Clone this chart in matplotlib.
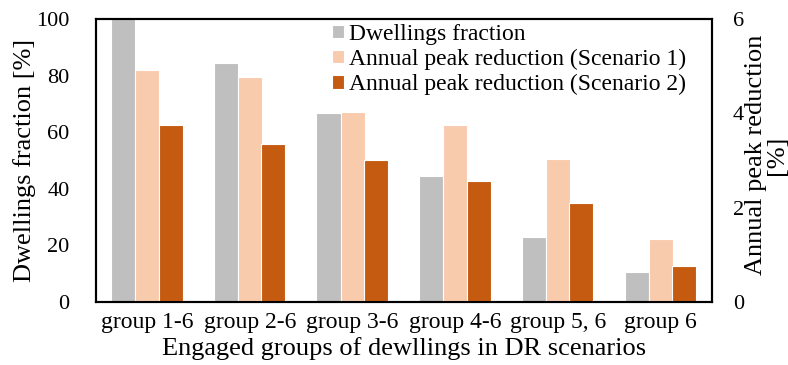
import matplotlib
matplotlib.use("Agg")
import matplotlib.pyplot as plt
import numpy as np

plt.rcParams['font.family'] = ['Liberation Serif', 'DejaVu Serif']

groups = ["group 1-6", "group 2-6", "group 3-6", "group 4-6", "group 5, 6", "group 6"]
dwellings_fraction = [100, 84.5, 66.7, 44.5, 22.9, 10.7]
peak_red_s1 = [4.91, 4.76, 4.02, 3.76, 3.04, 1.33]
peak_red_s2 = [3.76, 3.35, 3.01, 2.57, 2.10, 0.76]

c_grey = '#bfbfbf'
c_peach = '#f8cbad'
c_dark = '#c55a11'

fig = plt.figure(figsize=(7.88, 3.65), dpi=100)
ax = fig.add_axes([0.1218, 0.1726, 0.7818, 0.7754])
ax2 = ax.twinx()

x = np.arange(len(groups))
w = 0.235
b1 = ax.bar(x - 0.235, dwellings_fraction, w, color=c_grey, edgecolor='white', linewidth=0.8,
            label='Dwellings fraction', zorder=2)
b2 = ax2.bar(x, peak_red_s1, w, color=c_peach, edgecolor='white', linewidth=0.8,
             label='Annual peak reduction (Scenario 1)', zorder=2)
b3 = ax2.bar(x + 0.228, peak_red_s2, w, color=c_dark, edgecolor='white', linewidth=0.8,
             label='Annual peak reduction (Scenario 2)', zorder=2)

ax.set_xlim(-0.5, len(groups) - 0.5)
ax.set_ylim(0, 100)
ax2.set_ylim(0, 6)
ax.set_yticks([0, 20, 40, 60, 80, 100])
ax2.set_yticks([0, 2, 4, 6])
ax.set_xticks(x)
ax.set_xticklabels(groups)

ax.tick_params(axis='y', length=0, pad=19, labelsize=16)
ax.tick_params(axis='x', length=0, pad=7, labelsize=17)
ax2.tick_params(axis='y', length=0, pad=15, labelsize=16)

for a in (ax, ax2):
    for s in a.spines.values():
        s.set_linewidth(1.5)
        s.set_color('black')

ax.set_ylabel('Dwellings fraction [%]', fontsize=19)
ax.yaxis.set_label_coords(-0.097, 0.5)
ax.set_xlabel('Engaged groups of dewllings in DR scenarios', fontsize=19)
ax.xaxis.set_label_coords(0.5, -0.122)
ax2.set_ylabel('Annual peak reduction\n[%]', fontsize=19, linespacing=0.95)
ax2.yaxis.set_label_coords(1.053, 0.52)

handles = [b1, b2, b3]
ax.legend(handles, [h.get_label() for h in handles], loc='upper right',
          bbox_to_anchor=(0.974, 1.017), frameon=False, fontsize=17,
          handlelength=0.5, handleheight=0.5, handletextpad=0.25, labelspacing=0.18,
          borderaxespad=0.0)

fig.savefig('out.png', dpi=100)
